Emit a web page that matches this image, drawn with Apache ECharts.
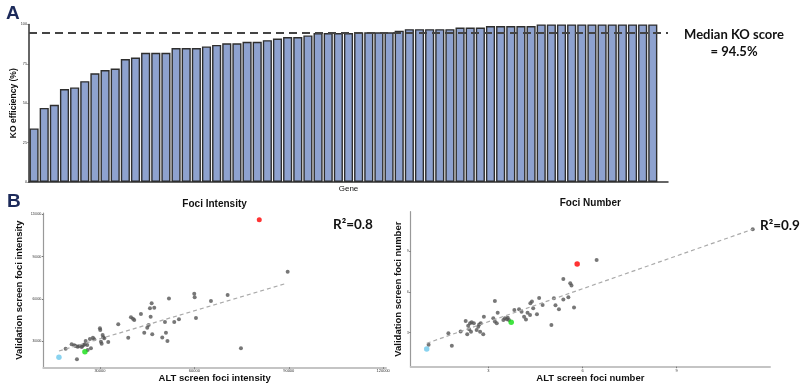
<!DOCTYPE html>
<html>
<head>
<meta charset="utf-8">
<style>html,body{margin:0;padding:0;background:#fff}#c{width:800px;height:388px}</style>
<script src="https://cdn.jsdelivr.net/npm/echarts@6/dist/echarts.min.js"></script>
</head>
<body>
<div id="c"></div>
<script>
// ---- Panel A: KO efficiency per gene (sorted) ----
const koValues = [34,47,49,59,60,64,69,71,72,78,79,82,82,82,85,85,85,86,87,88,88,89,89,90,91,92,92,93,
  94.5,94.5,94.5,94.5,95,95,95,95,96,97,97,97,97,97,98,98,98,99,99,99,99,99,
  100,100,100,100,100,100,100,100,100,100,100,100];
const geneNames = koValues.map((v, i) => 'Gene ' + (i + 1));
const medianKO = 94.5;
const koTicks = [0, 25, 50, 75, 100];

// ---- Panel B left: foci intensity ----
const intensityAlt = [19100,21010,21830,22280,22910,23330,22690,24190,24380,24820,25230,25460,25960,26090,26820,27140,27780,28190,
  30000,30100,30320,30540,30860,31050,31370,32640,35820,38990,39850,40490,40900,43030,44080,45030,45480,46110,46430,45890,46620,47260,
  49800,50660,50970,51450,51930,53610,55110,59970,60100,60510,65280,70580,74810,89650];
const intensityVal = [24750,27870,27160,26670,26170,26450,17230,25960,26670,27380,27870,30210,27380,23830,31630,25030,32550,31420,
  39220,38010,29720,28300,34470,32840,32130,29500,42060,32550,47020,46030,45110,49360,36100,39640,41560,47450,56950,53400,34960,53830,
  32690,43690,36100,30210,60350,43690,45600,63760,61200,46520,58580,62840,25030,79360];
const intensityRed = [80630, 116240];
const intensityGreen = [25230, 22620];
const intensityBlue = [16970, 18650];
const intensityTrend = [[16970, 23120], [89330, 71130]];
const intensityTicks = [30000, 60000, 90000, 120000];
const r2Intensity = '0.8';

// ---- Panel B right: foci number ----
const numberAlt = [1.10,1.73,1.84,2.12,2.28,2.33,2.36,2.39,2.42,2.45,2.47,2.54,2.63,2.68,2.71,2.74,2.76,2.84,2.86,
  3.16,3.21,3.21,3.27,3.30,3.48,3.53,3.59,3.62,3.66,3.83,3.98,4.06,4.14,4.20,4.25,4.33,4.34,4.39,4.43,4.55,4.62,4.73,
  5.01,5.09,5.14,5.25,5.39,5.39,5.55,5.61,5.65,5.73,6.45,11.42];
const numberVal = [2.11,2.96,2.04,3.09,3.86,2.88,3.51,3.25,3.69,3.07,3.76,3.69,3.20,3.44,3.59,3.07,3.69,2.88,4.17,
  4.06,5.33,3.81,3.69,4.47,3.93,4.06,3.98,4.10,3.93,4.67,4.72,4.54,4.17,3.97,4.47,4.30,5.16,5.29,4.79,4.35,5.55,5.03,
  3.56,5.53,5.01,4.72,6.94,5.44,5.60,6.63,6.46,4.85,8.34,10.59];
const numberRed = [5.83, 8.04];
const numberGreen = [3.73, 3.76];
const numberBlue = [1.04, 1.80];
const numberTrend = [[1.04, 2.22], [11.42, 10.59]];
const numberTicks = [3, 6, 9];
const r2Number = '0.9';

const pairs = (xs, ys) => xs.map((x, i) => [x, ys[i]]);

const chart = echarts.init(document.getElementById('c'), null, {renderer: 'canvas'});

const tinyLabel = (size, margin) => ({fontSize: size, color: '#333', fontFamily: 'Liberation Sans', margin: margin, formatter: v => String(v)});
const scatterAxis = (idx, min, max, ticks, name, isY, gap) => ({
  type: 'value', gridIndex: idx, min: min, max: max,
  name: name, nameLocation: 'middle', nameGap: gap, nameMoveOverlap: false,
  nameTextStyle: {fontFamily: 'Liberation Sans', fontWeight: 'bold', fontSize: 9.5, color: '#111'},
  axisLine: {show: true, lineStyle: {color: isY ? '#999' : '#c4c4c4', width: isY ? 1.2 : 2}},
  axisTick: {show: true, length: 1.5, customValues: ticks, lineStyle: {color: '#777'}},
  axisLabel: Object.assign({customValues: ticks}, tinyLabel(isY ? 3.2 : 4, 2)),
  splitLine: {show: false}
});

const ptStyle = {color: '#555555'};

chart.setOption({
  animation: false,
  grid: [
    {left: 29, top: 24.4, width: 639, height: 157.6, outerBoundsMode: 'none', containLabel: false},
    {left: 43.3, top: 213, width: 342.7, height: 154.3, outerBoundsMode: 'none', containLabel: false},
    {left: 410.7, top: 211.7, width: 359.3, height: 155, outerBoundsMode: 'none', containLabel: false}
  ],
  xAxis: [
    {type: 'category', gridIndex: 0, data: geneNames, max: geneNames.length,
     name: 'Gene', nameLocation: 'middle', nameGap: 3, nameMoveOverlap: false,
     nameTextStyle: {fontFamily: 'Liberation Sans', fontSize: 8, color: '#111'},
     axisLine: {lineStyle: {color: '#333', width: 1.5}}, axisTick: {show: false}, axisLabel: {show: false}},
    scatterAxis(1, 12000, 120900, intensityTicks, 'ALT screen foci intensity', false, 6),
    scatterAxis(2, 0.53, 11.97, numberTicks, 'ALT screen foci number', false, 7)
  ],
  yAxis: [
    {type: 'value', gridIndex: 0, min: 0, max: 100, interval: 25,
     name: 'KO efficiency (%)', nameLocation: 'middle', nameGap: 11, nameMoveOverlap: false,
     nameTextStyle: {fontFamily: 'Liberation Sans', fontWeight: 'bold', fontSize: 8.5, color: '#111'},
     axisLine: {show: true, lineStyle: {color: '#333', width: 1.5}},
     axisTick: {show: true, length: 1.5, lineStyle: {color: '#555'}},
     axisLabel: Object.assign({customValues: koTicks}, tinyLabel(3.8, 2)),
     splitLine: {show: false}},
    scatterAxis(1, 11560, 121000, intensityTicks, 'Validation screen foci intensity', true, 19),
    scatterAxis(2, 0.5, 11.88, numberTicks, 'Validation screen foci number', true, 7)
  ],
  series: [
    {type: 'bar', xAxisIndex: 0, yAxisIndex: 0, data: koValues, barCategoryGap: '10%',
     itemStyle: {color: '#8ea2cf', borderColor: '#2e2e2e', borderWidth: 1.4},
     markLine: {silent: true, symbol: 'none', label: {show: false},
       lineStyle: {type: [8, 5], color: '#444', width: 2},
       data: [{yAxis: medianKO}]}},
    {type: 'line', xAxisIndex: 1, yAxisIndex: 1, data: intensityTrend, symbol: 'none',
     lineStyle: {type: [4, 3], color: '#aaa', width: 1.2}},
    {type: 'scatter', xAxisIndex: 1, yAxisIndex: 1, data: pairs(intensityAlt, intensityVal), symbolSize: 4, itemStyle: ptStyle},
    {type: 'scatter', xAxisIndex: 1, yAxisIndex: 1, data: [intensityRed], symbolSize: 5, itemStyle: {color: '#ff0000'}},
    {type: 'scatter', xAxisIndex: 1, yAxisIndex: 1, data: [intensityGreen], symbolSize: 5.5, itemStyle: {color: '#11dd11'}},
    {type: 'scatter', xAxisIndex: 1, yAxisIndex: 1, data: [intensityBlue], symbolSize: 5.5, itemStyle: {color: '#6cc8ec'}},
    {type: 'line', xAxisIndex: 2, yAxisIndex: 2, data: numberTrend, symbol: 'none',
     lineStyle: {type: [4, 3], color: '#aaa', width: 1.2}},
    {type: 'scatter', xAxisIndex: 2, yAxisIndex: 2, data: pairs(numberAlt, numberVal), symbolSize: 4, itemStyle: ptStyle},
    {type: 'scatter', xAxisIndex: 2, yAxisIndex: 2, data: [numberRed], symbolSize: 5.5, itemStyle: {color: '#ff0000'}},
    {type: 'scatter', xAxisIndex: 2, yAxisIndex: 2, data: [numberGreen], symbolSize: 5.5, itemStyle: {color: '#11dd11'}},
    {type: 'scatter', xAxisIndex: 2, yAxisIndex: 2, data: [numberBlue], symbolSize: 5.5, itemStyle: {color: '#6cc8ec'}}
  ],
  graphic: [
    {type: 'text', x: 6, y: 4, style: {text: 'A', font: 'bold 19px "Liberation Sans"', fill: '#1c2a5a'}},
    {type: 'text', x: 7, y: 192, style: {text: 'B', font: 'bold 19px "Liberation Sans"', fill: '#1c2a5a'}},
    {type: 'text', x: 734, y: 26, style: {text: 'Median KO score\n= ' + medianKO + '%', font: 'bold 13px Lato', fill: '#111', align: 'center', lineHeight: 17}},
    {type: 'text', x: 214.6, y: 199, style: {text: 'Foci Intensity', font: 'bold 10px "Liberation Sans"', fill: '#111', align: 'center'}},
    {type: 'text', x: 590.3, y: 198, style: {text: 'Foci Number', font: 'bold 10px "Liberation Sans"', fill: '#111', align: 'center'}},
    {type: 'text', x: 333, y: 218, style: {text: 'R\u00b2=' + r2Intensity, font: 'bold 13.5px Lato', fill: '#111'}},
    {type: 'text', x: 760, y: 219, style: {text: 'R\u00b2=' + r2Number, font: 'bold 13.5px Lato', fill: '#111'}}
  ]
});
</script>
</body>
</html>
